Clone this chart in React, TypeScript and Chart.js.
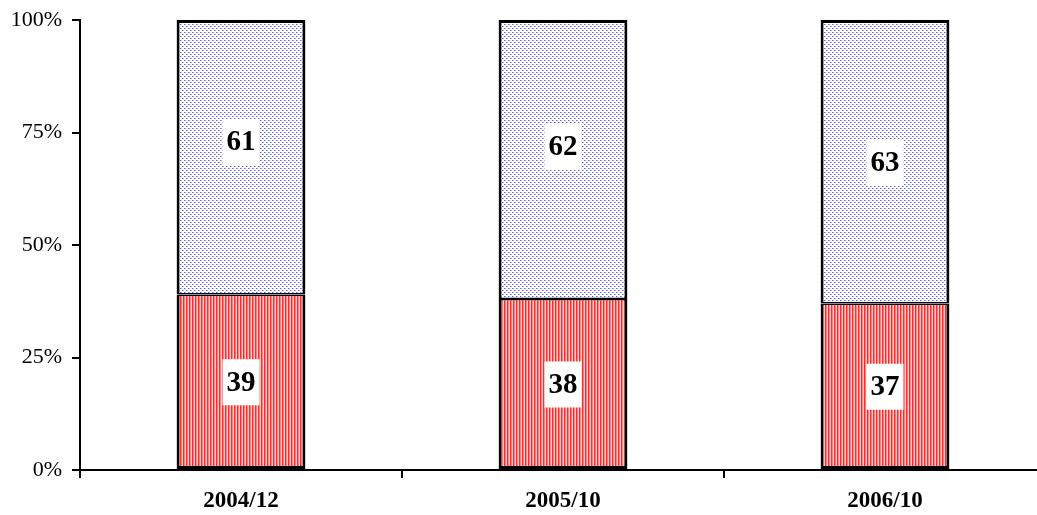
import React, { useEffect, useRef } from "react";
import { Chart, registerables } from "chart.js";

Chart.register(...registerables);

const categories = ["2004/12", "2005/10", "2006/10"];
const bottomSeries = [39, 38, 37];
const topSeries = [61, 62, 63];
const topLabelAt = [72.9, 71.8, 68.4];
const yTicks = [0, 25, 50, 75, 100];

function stripePattern(): CanvasPattern | string {
  const c = document.createElement("canvas");
  c.width = 3;
  c.height = 4;
  const g = c.getContext("2d");
  if (!g) return "#ff8080";
  const cols = ["#ff2a2a", "#ff7f7f", "#ffcfcf"];
  cols.forEach((col, i) => {
    g.fillStyle = col;
    g.fillRect(i, 0, 1, 4);
  });
  return g.createPattern(c, "repeat") || "#ff8080";
}

function dotPattern(): CanvasPattern | string {
  const c = document.createElement("canvas");
  c.width = 4;
  c.height = 4;
  const g = c.getContext("2d");
  if (!g) return "#ccccff";
  g.fillStyle = "#ffffff";
  g.fillRect(0, 0, 4, 4);
  g.fillStyle = "#5a5aff";
  g.fillRect(0, 0, 1, 1);
  g.fillRect(2, 2, 1, 1);
  g.fillStyle = "#b0b0ff";
  g.fillRect(1, 0, 1, 1);
  g.fillRect(3, 2, 1, 1);
  return g.createPattern(c, "repeat") || "#ccccff";
}

const labelPlugin = {
  id: "boxLabels",
  afterDatasetsDraw(chart: any) {
    const ctx = chart.ctx;
    const yScale = chart.scales.y;
    ctx.save();
    ctx.font = "bold 29px 'Liberation Serif'";
    ctx.textAlign = "center";
    ctx.textBaseline = "middle";
    chart.data.datasets.forEach((ds: any, di: number) => {
      const meta = chart.getDatasetMeta(di);
      meta.data.forEach((el: any, i: number) => {
        const v = ds.data[i];
        let y: number;
        if (di === 0) {
          y = yScale.getPixelForValue(v / 2);
        } else {
          y = yScale.getPixelForValue(topLabelAt[i]);
        }
        const txt = String(v);
        const w = ctx.measureText(txt).width + 8;
        const h = 46;
        ctx.fillStyle = "#ffffff";
        ctx.fillRect(el.x - w / 2, y - h / 2, w, h);
        ctx.fillStyle = "#000000";
        ctx.fillText(txt, el.x, y + 1);
      });
    });
    ctx.restore();
  },
};

export default function App() {
  const ref = useRef<HTMLCanvasElement>(null);
  useEffect(() => {
    if (!ref.current) return;
    const chart = new Chart(ref.current, {
      type: "bar",
      data: {
        labels: categories,
        datasets: [
          {
            data: bottomSeries,
            backgroundColor: stripePattern() as any,
            borderColor: "#000000",
            borderWidth: { left: 3, right: 3, bottom: 3, top: 1.5 } as any,
            borderSkipped: false,
            barPercentage: 0.4,
            categoryPercentage: 1,
          },
          {
            data: topSeries,
            backgroundColor: dotPattern() as any,
            borderColor: "#000000",
            borderWidth: { left: 3, right: 3, bottom: 1.5, top: 3 } as any,
            borderSkipped: false,
            barPercentage: 0.4,
            categoryPercentage: 1,
          },
        ],
      },
      options: {
        responsive: false,
        animation: false,
        layout: { padding: { top: 20, right: 14, left: 0, bottom: 0 } },
        plugins: { legend: { display: false }, tooltip: { enabled: false } },
        scales: {
          x: {
            stacked: true,
            offset: true,
            grid: {
              offset: true,
              drawOnChartArea: false,
              color: "#000000",
              lineWidth: 2,
              tickLength: 8,
            },
            border: { color: "#000000", width: 2 },
            ticks: {
              color: "#000000",
              font: { family: "'Liberation Serif'", size: 23, weight: "bold" },
              padding: 9,
            },
            afterFit: (s: any) => {
              s.height = 45;
              s.paddingLeft = 0;
              s.paddingRight = 0;
            },
          },
          y: {
            stacked: true,
            min: 0,
            max: 100,
            afterBuildTicks: (s: any) => {
              s.ticks = yTicks.map((v) => ({ value: v }));
            },
            grid: {
              drawOnChartArea: false,
              color: "#000000",
              lineWidth: 2,
              tickLength: 8,
            },
            border: { color: "#000000", width: 2 },
            ticks: {
              color: "#000000",
              font: { family: "'Liberation Serif'", size: 22 },
              padding: 10,
              callback: (v: any) => v + "%",
            },
            afterFit: (s: any) => {
              s.width = 80;
              s.paddingTop = 0;
              s.paddingBottom = 0;
            },
          },
        },
      },
      plugins: [labelPlugin],
    });
    return () => chart.destroy();
  }, []);
  return (
    <div style={{ position: "fixed", left: 0, top: 0, width: 1037, height: 515, overflow: "hidden", background: "#fff" }}>
      <canvas ref={ref} width={1060} height={515} style={{ width: 1060, height: 515, display: "block" }} />
    </div>
  );
}
